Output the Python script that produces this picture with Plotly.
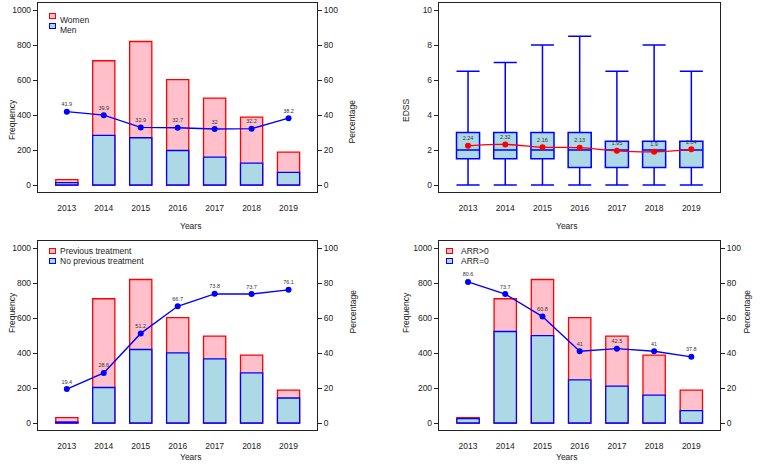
import plotly.graph_objects as go

years = [2013, 2014, 2015, 2016, 2017, 2018, 2019]
year_labels = [str(y) for y in years]

# patients per year (same total in every panel)
total = [31, 710, 820, 602, 497, 388, 188]

# panel A: sex
men = [13, 283, 270, 197, 159, 125, 72]
pct_men = [41.9, 39.9, 32.9, 32.7, 32, 32.2, 38.2]

# panel B: EDSS box summary
edss_min = [0, 0, 0, 0, 0, 0, 0]
edss_q1 = [1.5, 1.5, 1.5, 1, 1, 1, 1]
edss_med = [2, 2, 2, 2, 2, 2, 2]
edss_q3 = [3, 3, 3, 3, 2.5, 2.5, 2.5]
edss_max = [6.5, 7, 8, 8.5, 6.5, 8, 6.5]
edss_mean = [2.24, 2.32, 2.16, 2.13, 1.95, 1.9, 2.04]

# panel C: previous treatment
no_prev = [6, 203, 420, 401, 367, 286, 143]
pct_no_prev = [19.4, 28.6, 51.2, 66.7, 73.8, 73.7, 76.1]

# panel D: relapses
arr0 = [25, 523, 499, 247, 211, 159, 71]
pct_arr0 = [80.6, 73.7, 60.8, 41, 42.5, 41, 37.8]

W, H = 760, 469
FONT = "Liberation Sans, Arial, sans-serif"
INK = "#222222"
PINK = "#FFC0CB"
LBLUE = "#ADD8E6"


def xd(a, b):
    return [a / W, b / W]


def yd(top, bottom):
    return [1 - bottom / H, 1 - top / H]


def lab(v):
    return f"{v:g}"


fig = go.Figure()


def value_labels(vals, xa, ya):
    # small numbers printed just above each point (invisible marker sets the gap)
    fig.add_trace(go.Scatter(x=years, y=vals, mode="markers+text",
                             marker=dict(size=5, color="rgba(0,0,0,0)"),
                             text=[lab(v) for v in vals], textposition="top center",
                             textfont=dict(size=5.5, color="#333333", family=FONT),
                             showlegend=False, hoverinfo="skip", xaxis=xa, yaxis=ya))


def bar_panel(xa, ya, ya2, low_vals, pct):
    fig.add_trace(go.Bar(x=years, y=total, width=0.6, showlegend=False,
                         marker=dict(color=PINK, line=dict(color="red", width=1.3)),
                         xaxis=xa, yaxis=ya))
    fig.add_trace(go.Bar(x=years, y=low_vals, width=0.6, showlegend=False,
                         marker=dict(color=LBLUE, line=dict(color="blue", width=1.3)),
                         xaxis=xa, yaxis=ya))
    fig.add_trace(go.Scatter(x=years, y=pct, mode="lines+markers",
                             line=dict(color="blue", width=1.4),
                             marker=dict(color="blue", size=6),
                             showlegend=False, xaxis=xa, yaxis=ya2))
    value_labels(pct, xa, ya2)


bar_panel("x", "y", "y2", men, pct_men)
bar_panel("x3", "y4", "y5", no_prev, pct_no_prev)
bar_panel("x4", "y6", "y7", arr0, pct_arr0)

fig.add_trace(go.Box(x=years, q1=edss_q1, median=edss_med, q3=edss_q3,
                     lowerfence=edss_min, upperfence=edss_max,
                     width=0.62, whiskerwidth=1, fillcolor=LBLUE,
                     line=dict(color="blue", width=1.5), boxpoints=False,
                     showlegend=False, xaxis="x2", yaxis="y3"))
fig.add_trace(go.Scatter(x=years, y=edss_mean, mode="lines+markers",
                         line=dict(color="red", width=1.3, shape="spline"),
                         marker=dict(color="red", size=6),
                         showlegend=False, xaxis="x2", yaxis="y3"))
value_labels(edss_mean, "x2", "y3")

tickfont = dict(size=8.5, color=INK, family=FONT)


def xaxis(dom, anchor):
    return dict(domain=dom, anchor=anchor, range=[2012.22, 2019.77],
                tickvals=years, ticktext=year_labels, ticks="",
                ticklabelstandoff=8, tickfont=tickfont,
                showline=True, mirror=True, linecolor=INK, linewidth=1.4,
                showgrid=False, zeroline=False)


def yaxis(dom, anchor, rng, dtick):
    return dict(domain=dom, anchor=anchor, range=rng, dtick=dtick, tick0=0,
                ticks="outside", ticklen=4, tickcolor=INK, tickfont=tickfont,
                showline=True, mirror=True, linecolor=INK, linewidth=1.4,
                showgrid=False, zeroline=False)


def yaxis_right(over, anchor):
    return dict(overlaying=over, anchor=anchor, side="right", range=[-4, 104],
                dtick=20, tick0=0, ticks="outside", ticklen=4, tickcolor=INK,
                tickfont=tickfont, showline=False, showgrid=False, zeroline=False)


L, R = xd(38, 317), xd(439, 720)
TOP, BOT = yd(3, 192), yd(241, 430)

annotations = []


def title(text, x, y, angle=0):
    annotations.append(dict(text=text, x=x / W, y=1 - y / H, xref="paper", yref="paper",
                            showarrow=False, textangle=angle,
                            font=dict(size=8.5, color=INK, family=FONT)))


def key(text, lx, ty, fill, edge):
    # small legend swatch + label, R style
    annotations.append(dict(text=" ", x=(lx + 11) / W, y=1 - ty / H, xref="paper", yref="paper",
                            showarrow=False, width=5, height=4, borderpad=0, borderwidth=1,
                            bgcolor=fill, bordercolor=edge, font=dict(size=2)))
    annotations.append(dict(text=text, x=(lx + 20) / W, y=1 - ty / H, xref="paper", yref="paper",
                            xanchor="left", showarrow=False,
                            font=dict(size=8.5, color=INK, family=FONT)))


panels = [
    (38, 3, "Frequency", "Percentage", ("Women", "Men")),
    (439, 3, "EDSS", None, None),
    (38, 241, "Frequency", "Percentage", ("Previous treatment", "No previous treatment")),
    (439, 241, "Frequency", "Percentage", ("ARR>0", "ARR=0")),
]
for (lx, ty, left_title, right_title, keys) in panels:
    mid = ty + 94.5
    title(left_title, lx - 33, mid, -90)
    if right_title:
        title(right_title, lx + 314, mid, -90)
    title("Years", lx + 139.5, ty + 223)
    if keys:
        key(keys[0], lx, ty + 10, PINK, "red")
        key(keys[1], lx, ty + 20, LBLUE, "blue")

fig.update_layout(
    width=W, height=H,
    margin=dict(l=0, r=0, t=0, b=0),
    paper_bgcolor="white", plot_bgcolor="white",
    barmode="overlay", showlegend=False,
    xaxis=xaxis(L, "y"), yaxis=yaxis(TOP, "x", [-40, 1040], 200), yaxis2=yaxis_right("y", "x"),
    xaxis2=xaxis(R, "y3"), yaxis3=yaxis(TOP, "x2", [-0.4, 10.4], 2),
    xaxis3=xaxis(L, "y4"), yaxis4=yaxis(BOT, "x3", [-40, 1040], 200), yaxis5=yaxis_right("y4", "x3"),
    xaxis4=xaxis(R, "y6"), yaxis6=yaxis(BOT, "x4", [-40, 1040], 200), yaxis7=yaxis_right("y6", "x4"),
    annotations=annotations,
)

fig.write_html("out.html", config={"displayModeBar": False},
               post_script="document.body.style.margin='0px';")
